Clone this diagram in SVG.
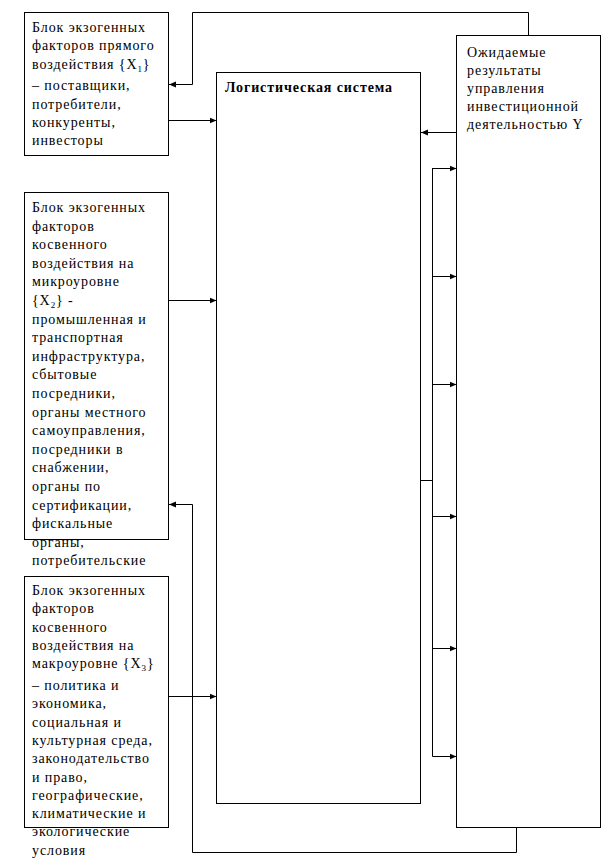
<svg xmlns="http://www.w3.org/2000/svg" width="613" height="865" viewBox="0 0 613 865">
<style>
.box{fill:#fff;stroke:#000;stroke-width:1}
.t{font-family:"Liberation Serif","Times New Roman",serif;font-size:14px;letter-spacing:0.9px;fill:#000}
.b{font-weight:bold;letter-spacing:0.9px}
.sub{font-size:9px}
.c{fill:none;stroke:#000;stroke-width:1}
</style>
<defs>
<marker id="ah" markerUnits="userSpaceOnUse" markerWidth="8" markerHeight="8" refX="7" refY="4" orient="auto">
<path d="M0,1 L7,4 L0,7 z" fill="#000"/>
</marker>
</defs>
<rect width="613" height="865" fill="#fff"/>
<g id="connectors">
<path class="c" d="M528.5,35 V12.5 H192.5 V84.5 H169" marker-end="url(#ah)"/>
<path class="c" d="M168,120.5 H216.5" marker-end="url(#ah)"/>
<path class="c" d="M168,300.5 H216.5" marker-end="url(#ah)"/>
<path class="c" d="M168,696.5 H216.5" marker-end="url(#ah)"/>
<path class="c" d="M456.5,132.5 H421" marker-end="url(#ah)"/>
<path class="c" d="M420.5,480.5 H432.5 M432.5,168 V756.5"/>
<path class="c" d="M432.5,168.5 H456.5" marker-end="url(#ah)"/>
<path class="c" d="M432.5,276.5 H456.5" marker-end="url(#ah)"/>
<path class="c" d="M432.5,384.5 H456.5" marker-end="url(#ah)"/>
<path class="c" d="M432.5,516.5 H456.5" marker-end="url(#ah)"/>
<path class="c" d="M432.5,648.5 H456.5" marker-end="url(#ah)"/>
<path class="c" d="M432.5,756.5 H456.5" marker-end="url(#ah)"/>
<path class="c" d="M516.5,828 V852.5 H192.5 V504.5 H169" marker-end="url(#ah)"/>
</g>
<g id="logistic">
<rect class="box" x="216.5" y="72.5" width="204" height="731"/>
<text class="t b" x="225" y="92">Логистическая система</text>
</g>
<g id="results">
<rect class="box" x="456.5" y="35.5" width="144" height="792"/>
<text class="t" x="467"><tspan x="467" y="57">Ожидаемые</tspan><tspan x="467" y="75">результаты</tspan><tspan x="467" y="93">управления</tspan><tspan x="467" y="111">инвестиционной</tspan><tspan x="467" y="129">деятельностью Y</tspan></text>
</g>
<g id="x1">
<rect class="box" x="24.5" y="12.5" width="144" height="143"/>
<text class="t"><tspan x="32" y="32">Блок экзогенных</tspan><tspan x="32" y="50.3">факторов прямого</tspan><tspan x="32" y="68.6">воздействия {X</tspan><tspan class="sub" dy="3">1</tspan><tspan dy="-3">}</tspan><tspan x="32" y="90.3">– поставщики,</tspan><tspan x="32" y="108.6">потребители,</tspan><tspan x="32" y="126.9">конкуренты,</tspan><tspan x="32" y="145.2">инвесторы</tspan></text>
</g>
<g id="x2">
<rect class="box" x="24.5" y="192.5" width="144" height="347"/>
<text class="t"><tspan x="32" y="212">Блок экзогенных</tspan><tspan x="32" y="230.6">факторов</tspan><tspan x="32" y="249.2">косвенного</tspan><tspan x="32" y="267.8">воздействия на</tspan><tspan x="32" y="286.4">микроуровне</tspan><tspan x="32" y="305">{X</tspan><tspan class="sub" dy="3">2</tspan><tspan dy="-3">} -</tspan><tspan x="32" y="323.6">промышленная и</tspan><tspan x="32" y="342.2">транспортная</tspan><tspan x="32" y="360.8">инфраструктура,</tspan><tspan x="32" y="379.4">сбытовые</tspan><tspan x="32" y="398">посредники,</tspan><tspan x="32" y="416.6">органы местного</tspan><tspan x="32" y="435.2">самоуправления,</tspan><tspan x="32" y="453.8">посредники в</tspan><tspan x="32" y="472.4">снабжении,</tspan><tspan x="32" y="491">органы по</tspan><tspan x="32" y="509.6">сертификации,</tspan><tspan x="32" y="528.2">фискальные</tspan><tspan x="32" y="546.8">органы,</tspan><tspan x="32" y="565.4">потребительские</tspan></text>
</g>
<g id="x3">
<rect class="box" x="24.5" y="576.5" width="144" height="251"/>
<text class="t"><tspan x="32" y="595">Блок экзогенных</tspan><tspan x="32" y="613.3">факторов</tspan><tspan x="32" y="631.6">косвенного</tspan><tspan x="32" y="649.9">воздействия на</tspan><tspan x="32" y="668.2">макроуровне {X</tspan><tspan class="sub" dy="3">3</tspan><tspan dy="-3">}</tspan><tspan x="32" y="690">– политика и</tspan><tspan x="32" y="708.3">экономика,</tspan><tspan x="32" y="726.6">социальная и</tspan><tspan x="32" y="744.9">культурная среда,</tspan><tspan x="32" y="763.2">законодательство</tspan><tspan x="32" y="781.5">и право,</tspan><tspan x="32" y="799.8">географические,</tspan><tspan x="32" y="818.1">климатические и</tspan><tspan x="32" y="836.4">экологические</tspan><tspan x="32" y="854.7">условия</tspan></text>
</g>
</svg>
